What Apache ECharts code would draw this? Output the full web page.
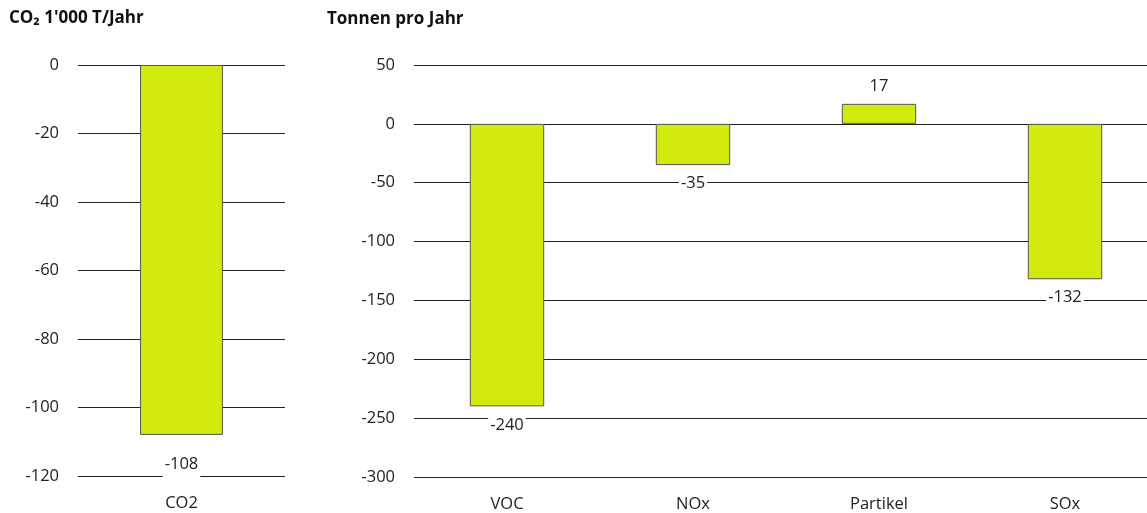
<!DOCTYPE html>
<html>
<head>
<meta charset="utf-8">
<script src="https://cdn.jsdelivr.net/npm/echarts@6/dist/echarts.min.js"></script>
<style>
  html, body { margin: 0; padding: 0; background: #fff; }
  #chart { width: 1147px; height: 513px; }
</style>
</head>
<body>
<div id="chart"></div>
<script>
// Werte aus der Grafik
const co2Categories = ['CO2']
const co2Values = [-108]
const otherCategories = ['VOC', 'NOx', 'Partikel', 'SOx']
const otherValues = [-240, -35, 17, -132]

const barColor = '#d3ea0e'
const textColor = '#222'
const fontFamily = '"Open Sans", "Noto Sans", sans-serif'
const fontSize = 16.5

const chart = echarts.init(document.getElementById('chart'))

// negative Werte unter dem Balken, positive darüber
function buildData(values, distBelow, distAbove) {
  return values.map(v => ({
    value: v,
    label: v < 0
      ? { position: 'bottom', distance: distBelow }
      : { position: 'top', distance: distAbove }
  }))
}

const barLabel = {
  show: true,
  fontFamily: fontFamily,
  fontSize: fontSize,
  color: textColor,
  backgroundColor: '#fff',
  padding: [2, 2, 5, 2]
}

const yAxisCommon = {
  type: 'value',
  axisLine: { show: false },
  axisTick: { show: false },
  axisLabel: { color: textColor, fontSize: fontSize, fontFamily: fontFamily, margin: 19 },
  splitLine: { lineStyle: { color: '#222', width: 1 } }
}
const xAxisCommon = {
  type: 'category',
  axisLine: { show: false },
  axisTick: { show: false },
  axisLabel: { color: textColor, fontSize: fontSize, fontFamily: fontFamily, margin: 19 }
}
const titleStyle = { fontSize: 17, fontWeight: 'bold', color: '#111', fontFamily: fontFamily }

chart.setOption({
  animation: false,
  title: [
    { text: "CO₂ 1'000 T/Jahr", left: 9, top: 10, padding: 0, textStyle: titleStyle },
    { text: 'Tonnen pro Jahr', left: 327, top: 11, padding: 0, textStyle: titleStyle }
  ],
  grid: [
    { left: 78, width: 207, top: 65, height: 411, outerBoundsMode: 'none' },
    // rechter Rand läuft über den Bildrand hinaus
    { left: 414, width: 744, top: 65, height: 412, outerBoundsMode: 'none' }
  ],
  xAxis: [
    Object.assign({ gridIndex: 0, data: co2Categories }, xAxisCommon),
    Object.assign({ gridIndex: 1, data: otherCategories }, xAxisCommon)
  ],
  yAxis: [
    Object.assign({ gridIndex: 0, min: -120, max: 0, interval: 20 }, yAxisCommon),
    Object.assign({ gridIndex: 1, min: -300, max: 50, interval: 50 }, yAxisCommon)
  ],
  series: [
    {
      type: 'bar',
      xAxisIndex: 0, yAxisIndex: 0,
      barWidth: '40%',
      itemStyle: { color: barColor, borderColor: '#555', borderWidth: 1 },
      label: barLabel,
      data: buildData(co2Values, 19, 4)
    },
    {
      type: 'bar',
      xAxisIndex: 1, yAxisIndex: 1,
      barWidth: '40%',
      itemStyle: { color: barColor, borderColor: '#555', borderWidth: 1 },
      label: barLabel,
      data: buildData(otherValues, 8, 4)
    }
  ]
})
</script>
</body>
</html>
